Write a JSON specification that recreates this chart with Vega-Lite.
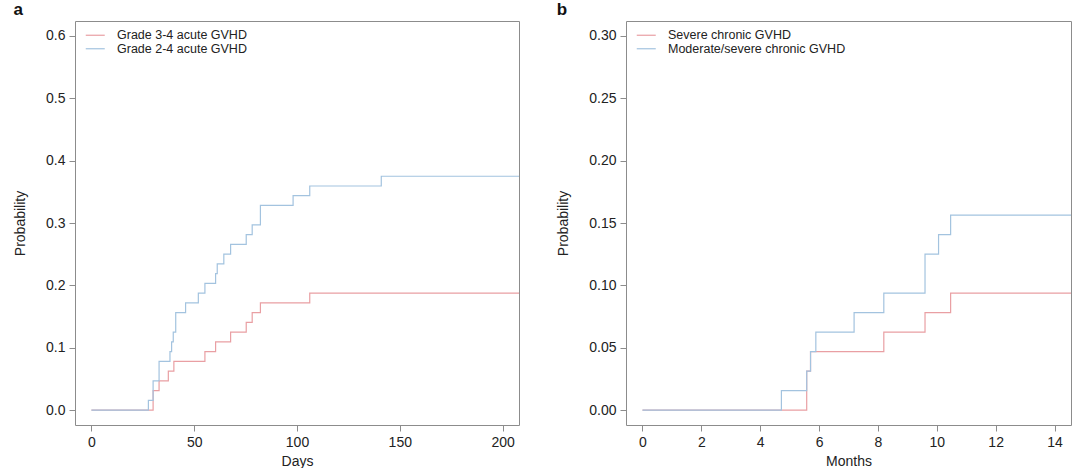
{
  "$schema": "https://vega.github.io/schema/vega-lite/v6.json",
  "padding": {"left": 13, "top": 0, "right": 5, "bottom": 0},
  "background": "white",
  "config": {
    "font": "Liberation Sans",
    "view": {"stroke": "#8c8c8c", "strokeWidth": 1},
    "axis": {
      "grid": false, "domain": false, "tickColor": "#8c8c8c", "tickSize": 6, "tickWidth": 1,
      "labelFontSize": 14, "labelColor": "#222", "labelPadding": 4,
      "titleFontSize": 14, "titleFontWeight": "normal", "titleColor": "#222"
    },
    "axisY": {"titlePadding": 18},
    "axisX": {"titlePadding": 5},
    "legend": {
      "orient": "top-left", "offset": 8, "padding": 0,
      "symbolType": "M-1.9,0H1.9", "symbolSize": 100, "symbolStrokeWidth": 1.2,
      "labelFontSize": 12.5, "labelColor": "#222", "labelOffset": 15.5, "rowPadding": 0.5, "symbolOffset": 6,
      "labelLimit": 0
    },
    "title": {"anchor": "start", "frame": "bounds", "fontSize": 17, "fontWeight": "bold", "color": "#111", "offset": 2}
  },
  "datasets": {
    "acute": [
      {"group": "Grade 3-4 acute GVHD", "time": 0, "prob": 0},
      {"group": "Grade 3-4 acute GVHD", "time": 30.0, "prob": 0.03125},
      {"group": "Grade 3-4 acute GVHD", "time": 32.9, "prob": 0.046875},
      {"group": "Grade 3-4 acute GVHD", "time": 37.4, "prob": 0.0625},
      {"group": "Grade 3-4 acute GVHD", "time": 40.1, "prob": 0.078125},
      {"group": "Grade 3-4 acute GVHD", "time": 55.2, "prob": 0.09375},
      {"group": "Grade 3-4 acute GVHD", "time": 60.4, "prob": 0.109375},
      {"group": "Grade 3-4 acute GVHD", "time": 67.7, "prob": 0.125},
      {"group": "Grade 3-4 acute GVHD", "time": 75.3, "prob": 0.140625},
      {"group": "Grade 3-4 acute GVHD", "time": 78.2, "prob": 0.15625},
      {"group": "Grade 3-4 acute GVHD", "time": 82.2, "prob": 0.171875},
      {"group": "Grade 3-4 acute GVHD", "time": 106.2, "prob": 0.1875},
      {"group": "Grade 3-4 acute GVHD", "time": 208, "prob": 0.1875},
      {"group": "Grade 2-4 acute GVHD", "time": 0, "prob": 0},
      {"group": "Grade 2-4 acute GVHD", "time": 27.7, "prob": 0.015625},
      {"group": "Grade 2-4 acute GVHD", "time": 30.0, "prob": 0.046875},
      {"group": "Grade 2-4 acute GVHD", "time": 32.9, "prob": 0.078125},
      {"group": "Grade 2-4 acute GVHD", "time": 38.2, "prob": 0.09375},
      {"group": "Grade 2-4 acute GVHD", "time": 39.0, "prob": 0.109375},
      {"group": "Grade 2-4 acute GVHD", "time": 39.8, "prob": 0.125},
      {"group": "Grade 2-4 acute GVHD", "time": 41.0, "prob": 0.15625},
      {"group": "Grade 2-4 acute GVHD", "time": 45.8, "prob": 0.171875},
      {"group": "Grade 2-4 acute GVHD", "time": 52.0, "prob": 0.1875},
      {"group": "Grade 2-4 acute GVHD", "time": 55.2, "prob": 0.203125},
      {"group": "Grade 2-4 acute GVHD", "time": 60.4, "prob": 0.21875},
      {"group": "Grade 2-4 acute GVHD", "time": 61.2, "prob": 0.234375},
      {"group": "Grade 2-4 acute GVHD", "time": 64.4, "prob": 0.25},
      {"group": "Grade 2-4 acute GVHD", "time": 67.7, "prob": 0.265625},
      {"group": "Grade 2-4 acute GVHD", "time": 75.3, "prob": 0.28125},
      {"group": "Grade 2-4 acute GVHD", "time": 78.2, "prob": 0.296875},
      {"group": "Grade 2-4 acute GVHD", "time": 82.2, "prob": 0.328125},
      {"group": "Grade 2-4 acute GVHD", "time": 98.1, "prob": 0.34375},
      {"group": "Grade 2-4 acute GVHD", "time": 106.2, "prob": 0.359375},
      {"group": "Grade 2-4 acute GVHD", "time": 141.0, "prob": 0.375},
      {"group": "Grade 2-4 acute GVHD", "time": 208, "prob": 0.375}
    ],
    "chronic": [
      {"group": "Severe chronic GVHD", "time": 0, "prob": 0},
      {"group": "Severe chronic GVHD", "time": 5.58, "prob": 0.03125},
      {"group": "Severe chronic GVHD", "time": 5.71, "prob": 0.046875},
      {"group": "Severe chronic GVHD", "time": 8.2, "prob": 0.0625},
      {"group": "Severe chronic GVHD", "time": 9.6, "prob": 0.078125},
      {"group": "Severe chronic GVHD", "time": 10.47, "prob": 0.09375},
      {"group": "Severe chronic GVHD", "time": 14.56, "prob": 0.09375},
      {"group": "Moderate/severe chronic GVHD", "time": 0, "prob": 0},
      {"group": "Moderate/severe chronic GVHD", "time": 4.72, "prob": 0.015625},
      {"group": "Moderate/severe chronic GVHD", "time": 5.58, "prob": 0.03125},
      {"group": "Moderate/severe chronic GVHD", "time": 5.71, "prob": 0.046875},
      {"group": "Moderate/severe chronic GVHD", "time": 5.89, "prob": 0.0625},
      {"group": "Moderate/severe chronic GVHD", "time": 7.19, "prob": 0.078125},
      {"group": "Moderate/severe chronic GVHD", "time": 8.2, "prob": 0.09375},
      {"group": "Moderate/severe chronic GVHD", "time": 9.6, "prob": 0.125},
      {"group": "Moderate/severe chronic GVHD", "time": 10.06, "prob": 0.140625},
      {"group": "Moderate/severe chronic GVHD", "time": 10.47, "prob": 0.15625},
      {"group": "Moderate/severe chronic GVHD", "time": 14.56, "prob": 0.15625}
    ]
  },
  "spacing": 36,
  "resolve": {"scale": {"color": "independent"}, "legend": {"color": "independent"}},
  "hconcat": [
    {
      "width": 444, "height": 404,
      "title": {"text": "a"},
      "data": {"name": "acute"},
      "mark": {"type": "line", "interpolate": "step-after", "strokeWidth": 1.2, "clip": true},
      "encoding": {
        "x": {"field": "time", "type": "quantitative",
              "scale": {"domain": [-8, 208], "nice": false, "zero": false},
              "axis": {"values": [0, 50, 100, 150, 200], "title": "Days"}},
        "y": {"field": "prob", "type": "quantitative",
              "scale": {"domain": [-0.024, 0.624], "nice": false, "zero": false},
              "axis": {"values": [0, 0.1, 0.2, 0.3, 0.4, 0.5, 0.6], "format": ".1f", "title": "Probability"}},
        "color": {"field": "group", "type": "nominal",
                  "scale": {"domain": ["Grade 3-4 acute GVHD", "Grade 2-4 acute GVHD"], "range": ["#e99fa3", "#a3c3df"]},
                  "legend": {"title": null}}
      }
    },
    {
      "width": 445, "height": 404,
      "title": {"text": "b"},
      "data": {"name": "chronic"},
      "mark": {"type": "line", "interpolate": "step-after", "strokeWidth": 1.2, "clip": true},
      "encoding": {
        "x": {"field": "time", "type": "quantitative",
              "scale": {"domain": [-0.56, 14.56], "nice": false, "zero": false},
              "axis": {"values": [0, 2, 4, 6, 8, 10, 12, 14], "title": "Months"}},
        "y": {"field": "prob", "type": "quantitative",
              "scale": {"domain": [-0.012, 0.312], "nice": false, "zero": false},
              "axis": {"values": [0, 0.05, 0.1, 0.15, 0.2, 0.25, 0.3], "format": ".2f", "title": "Probability"}},
        "color": {"field": "group", "type": "nominal",
                  "scale": {"domain": ["Severe chronic GVHD", "Moderate/severe chronic GVHD"], "range": ["#e99fa3", "#a3c3df"]},
                  "legend": {"title": null}}
      }
    }
  ]
}
